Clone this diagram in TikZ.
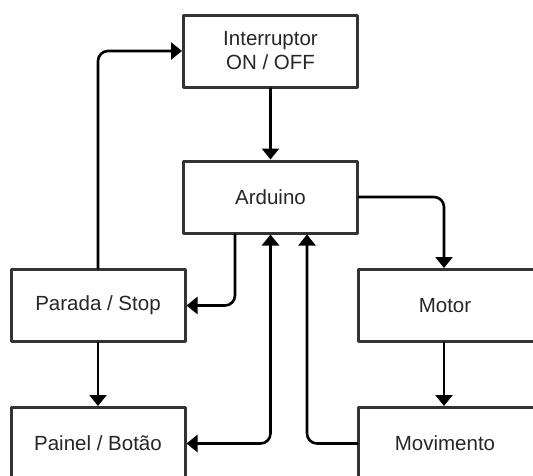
\documentclass[tikz,border=0pt]{standalone}
\usepackage{fontspec}
\setmainfont{Liberation Sans}
\usepackage{tikz}
\usetikzlibrary{calc, positioning, arrows.meta}

\begin{document}
\begin{tikzpicture}[x=1pt, y=-1pt, line cap=round, line join=round,
	bloco/.style={draw=black!80, line width=3pt, fill=white, text=black!85,
		minimum width=174pt, minimum height=72pt, inner sep=2pt, align=center,
		font=\fontsize{20.5}{24}\selectfont},
	seta/.style={line width=2.6pt, rounded corners=10pt,
		-{Triangle[length=11pt, width=17pt]}},
	dupla/.style={seta, {Triangle[length=11pt, width=17pt]}-{Triangle[length=11pt, width=17pt]}}]

\useasboundingbox (0,0) rectangle (533,475);
\clip (0,0) rectangle (533,475);

\node[bloco] (inter) at (270.5,51) {Interruptor\\ON / OFF};
\node[bloco] (ard) at (270.5,197) {Arduino};
\node[bloco] (parada) at (98,305.5) {Parada / Stop};
\node[bloco, minimum width=182pt, anchor=west] (motor) at (357,305.5) {\hspace*{-9pt}Motor};
\node[bloco] (painel) at (98,443.5) {Painel / Bot\~ao};
\node[bloco, minimum width=182pt, anchor=west] (movim) at (357,443.5) {\hspace*{-9pt}Movimento};

\coordinate (ardA) at ($(ard.south)+(-35.5,0)$);
\coordinate (ardB) at ($(ard.south)+(36.5,0)$);
\coordinate (motT) at ($(motor.north west)+(87,0)$);
\coordinate (motB) at ($(motor.south west)+(87,0)$);
\coordinate (movT) at ($(movim.north west)+(87,0)$);

\draw[seta] (inter) -- (ard);
\draw[seta] (ard.east) -| (motT);
\draw[seta] (parada.north) |- (inter.west);
\draw[seta] (ardA) |- (parada.east);
\draw[dupla] (painel.east) -| (ard.south);
\draw[seta] (movim.west) -| (ardB);
\draw[seta] (parada) -- (painel);
\draw[seta] (motB) -- (movT);

\end{tikzpicture}
\end{document}
